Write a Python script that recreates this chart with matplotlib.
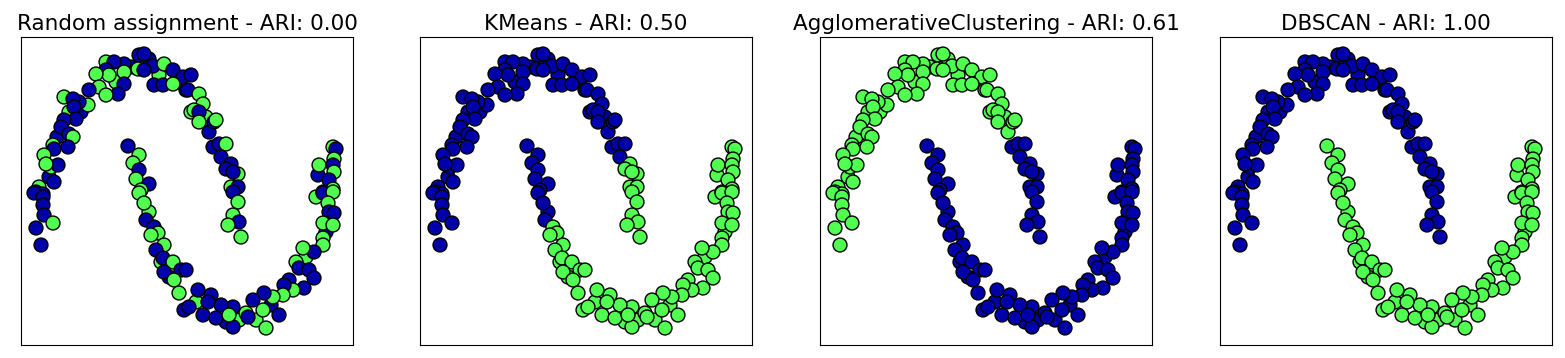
import matplotlib.pyplot as plt
from matplotlib.colors import ListedColormap

# point positions read off the picture (panel units, y measured from the top)
# upper moon first, then lower moon
x_upper = [118, 123, 132, 143, 152, 162, 165, 133, 142, 152, 117, 123, 103, 103, 103, 97, 85, 93, 85, 88,
           75, 78, 85, 68, 67, 58, 43, 52, 53, 55, 43, 40, 48, 52, 47, 32, 33, 23, 30, 37,
           33, 25, 15, 22, 170, 170, 167, 178, 182, 173, 178, 178, 193, 195, 192, 198, 205, 200, 210, 205,
           217, 212, 210, 217, 13, 22, 22, 23, 32, 15, 20, 212, 217, 212, 218, 207, 220]
y_upper = [18, 17, 29, 27, 33, 40, 53, 48, 48, 47, 32, 33, 27, 35, 47, 57, 25, 25, 33, 38,
           37, 50, 58, 53, 68, 65, 60, 62, 70, 82, 83, 90, 97, 100, 110, 108, 112, 118, 130, 128,
           145, 127, 155, 157, 75, 38, 53, 57, 67, 73, 75, 85, 85, 83, 110, 107, 107, 120, 127, 132,
           137, 135, 150, 150, 156, 160, 168, 178, 186, 191, 208, 155, 165, 178, 185, 188, 200]
x_lower = [107, 118, 112, 118, 115, 128, 120, 118, 123, 125, 133, 137, 130, 143, 135, 142, 152, 160, 143, 153,
           158, 163, 312, 315, 313, 298, 312, 313, 308, 312, 302, 302, 312, 307, 308, 313, 302, 312, 302, 302,
           293, 282, 275, 278, 288, 293, 283, 272, 263, 262, 252, 243, 232, 242, 225, 227, 212, 200, 190, 177,
           187, 182, 195, 212, 245, 258, 165, 168, 208]
y_lower = [109, 118, 126, 133, 142, 147, 153, 156, 166, 183, 190, 196, 198, 208, 213, 221, 225, 233, 235, 243,
           256, 273, 110, 112, 122, 128, 128, 135, 143, 152, 155, 156, 155, 166, 175, 176, 186, 188, 201, 208,
           215, 211, 225, 231, 233, 241, 251, 253, 248, 258, 260, 256, 263, 273, 276, 280, 270, 268, 258, 253,
           265, 278, 281, 290, 291, 278, 233, 270, 278]
# points mostly hidden behind the others, drawn first
x_upper_back = [60, 95, 110, 128, 138, 157, 48, 36, 28, 18, 185, 188]
y_upper_back = [75, 45, 30, 22, 38, 45, 75, 100, 140, 150, 80, 95]
x_lower_back = [295, 305, 285, 268, 250, 235, 218, 205, 175, 148, 140, 128, 297]
y_lower_back = [160, 195, 220, 243, 268, 283, 283, 285, 265, 240, 225, 175, 138]

# cluster labels per panel (0 = blue, 1 = green), same point order as above
random_upper = ("0001000001" "1001001001" "1110101000" "0001010110" "01001"
                "001110101" "0010001010" "0000100" "011011")
random_lower = ("0110101" "110011100100110" "101101010"
                "0110011110" "1100001011" "0011000000" "00010001")
random_back = "010010100110" + "1010011010110"
kmeans_upper = "0" * 58 + "1" * 6 + "0" * 7 + "1" * 6
kmeans_lower = "0" * 10 + "1" * 59
kmeans_back = "0" * 12 + "11111111111" + "01"
agglo_upper = "1" * 54 + "0" * 10 + "1" * 7 + "0" * 6
agglo_lower = "0" * 69
agglo_back = "1" * 12 + "0" * 13
dbscan_upper = "0" * 77
dbscan_lower = "1" * 69
dbscan_back = "0" * 12 + "1" * 13

titles = ["Random assignment - ARI: 0.00", "KMeans - ARI: 0.50",
          "AgglomerativeClustering - ARI: 0.61", "DBSCAN - ARI: 1.00"]
label_sets = [(random_back, random_upper, random_lower),
              (kmeans_back, kmeans_upper, kmeans_lower),
              (agglo_back, agglo_upper, agglo_lower),
              (dbscan_back, dbscan_upper, dbscan_lower)]

x = x_upper_back + x_lower_back + x_upper + x_lower
y = y_upper_back + y_lower_back + y_upper + y_lower
cm = ListedColormap(['#0000aa', '#50ff50'])

fig = plt.figure(figsize=(15.65, 3.58), dpi=100)
lefts = [21, 420, 820, 1220]
for left, title, (back, up, low) in zip(lefts, titles, label_sets):
    ax = fig.add_axes([left / 1565, 13 / 358, 332 / 1565, 308 / 358])
    labels = [int(c) for c in back + up + low]
    ax.scatter(x, y, c=labels, cmap=cm, vmin=0, vmax=1, s=100,
               edgecolors='black', linewidths=1)
    ax.set_xlim(0, 332)
    ax.set_ylim(308, 0)
    ax.set_xticks([])
    ax.set_yticks([])
    ax.set_title(title, fontsize=15.5, pad=5)

fig.savefig('out.png', dpi=100)
